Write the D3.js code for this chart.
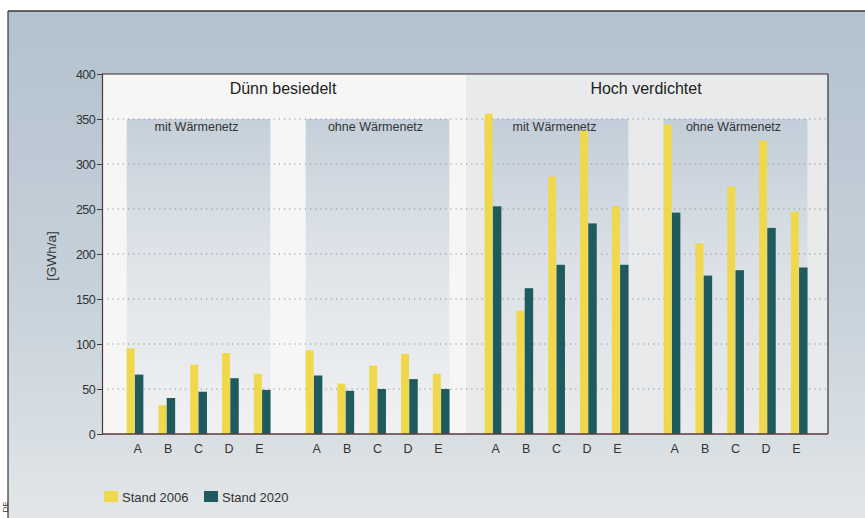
<!DOCTYPE html>
<html><head><meta charset="utf-8">
<script src="https://cdn.jsdelivr.net/npm/d3@7"></script>
<style>html,body{margin:0;padding:0;background:#fff;}svg{display:block;font-family:"Liberation Sans",Arial,sans-serif;}</style>
</head><body>
<script>
const categories = ["A","B","C","D","E"];
const regions = ["Dünn besiedelt","Hoch verdichtet"];
const subgroups = [
  {key:"d_mit", region:"Dünn besiedelt", label:"mit Wärmenetz"},
  {key:"d_ohne", region:"Dünn besiedelt", label:"ohne Wärmenetz"},
  {key:"h_mit", region:"Hoch verdichtet", label:"mit Wärmenetz"},
  {key:"h_ohne", region:"Hoch verdichtet", label:"ohne Wärmenetz"}
];
const series = ["Stand 2006","Stand 2020"];
const stand2006 = {
  d_mit:[95,32,77,90,67],
  d_ohne:[93,56,76,89,67],
  h_mit:[356,137,286,337,253],
  h_ohne:[344,212,275,326,247]
};
const stand2020 = {
  d_mit:[66,40,47,62,49],
  d_ohne:[65,48,50,61,50],
  h_mit:[253,162,188,234,188],
  h_ohne:[246,176,182,229,185]
};
const yTicks = [0,50,100,150,200,250,300,350,400];
const colors = {"Stand 2006":"#f0d84c","Stand 2020":"#1f5b5e"};

(function(){
const W=865,H=518;
const svg=d3.select("body").append("svg").attr("width",W).attr("height",H);
const defs=svg.append("defs");
const bgG=defs.append("linearGradient").attr("id","bg").attr("x1",0).attr("y1",0).attr("x2",0).attr("y2",1);
bgG.append("stop").attr("offset","0").attr("stop-color","#b3c2cf");
bgG.append("stop").attr("offset","0.55").attr("stop-color","#c6d1da");
bgG.append("stop").attr("offset","1").attr("stop-color","#e2e6e8");
const pG=defs.append("linearGradient").attr("id","panel").attr("x1",0).attr("y1",0).attr("x2",0).attr("y2",1);
pG.append("stop").attr("offset","0").attr("stop-color","#c5d0da");
pG.append("stop").attr("offset","0.45").attr("stop-color","#dfe4e9");
pG.append("stop").attr("offset","1").attr("stop-color","#f0f1f2");
const pG2=defs.append("linearGradient").attr("id","panel2").attr("x1",0).attr("y1",0).attr("x2",0).attr("y2",1);
pG2.append("stop").attr("offset","0").attr("stop-color","#c3ceda");
pG2.append("stop").attr("offset","0.5").attr("stop-color","#dde2e7");
pG2.append("stop").attr("offset","1").attr("stop-color","#e9ebed");

// outer frame
svg.append("rect").attr("x",8).attr("y",11).attr("width",W-8).attr("height",H-11).attr("fill","url(#bg)");
svg.append("line").attr("x1",8).attr("x2",W).attr("y1",11).attr("y2",11).attr("stroke","#3a3335").attr("stroke-width",1.5);
svg.append("line").attr("x1",8).attr("x2",8).attr("y1",11).attr("y2",H).attr("stroke","#3a3335").attr("stroke-width",1.2);
svg.append("text").attr("transform","translate(7.5,507) rotate(-90)").attr("text-anchor","middle").attr("font-size",8).attr("fill","#333").text("DE");

const pl=102,pr=828,pt=74,pb=434;
const y=d3.scaleLinear().domain([0,400]).range([pb,pt]);
const xSub=d3.scaleBand().domain(subgroups.map(d=>d.key)).range([109,825]);
const xCat=d3.scaleBand().domain(categories).range([0,xSub.bandwidth()]).paddingOuter(0.315);
const xLab=d3.scaleBand().domain(categories).range([0,xSub.bandwidth()]).paddingOuter(0.44);
const xSer=d3.scaleBand().domain(series).range([0,16.5]);
const barOff=(xCat.bandwidth()-16.5)/2;

const mid=466;
svg.append("rect").attr("x",pl).attr("y",pt).attr("width",mid-pl).attr("height",pb-pt).attr("fill","#f6f6f5");
svg.append("rect").attr("x",mid).attr("y",pt).attr("width",pr-mid).attr("height",pb-pt).attr("fill","#e8eaeb");

subgroups.forEach(sg=>{
  const x0=xSub(sg.key)+xCat("A")+barOff;
  const x1=xSub(sg.key)+xCat("E")+barOff+16.5;
  svg.append("rect").attr("x",x0).attr("y",y(350)).attr("width",x1-x0).attr("height",y(0)-y(350))
    .attr("fill",sg.region===regions[0]?"url(#panel)":"url(#panel2)");
});

svg.append("g").selectAll("line").data(yTicks.filter(t=>t>0&&t<400)).join("line")
  .attr("x1",pl).attr("x2",pr).attr("y1",d=>y(d)).attr("y2",d=>y(d))
  .attr("stroke","#8a8f94").attr("stroke-width",1).attr("stroke-dasharray","1.2,4");

regions.forEach((r,i)=>{
  const cx = i===0 ? 283 : 646;
  svg.append("text").attr("x",cx).attr("y",94).attr("text-anchor","middle").attr("font-size",16).attr("fill","#222").text(r);
});
subgroups.forEach(sg=>{
  svg.append("text").attr("x",xSub(sg.key)+xSub.bandwidth()/2-2).attr("y",131).attr("text-anchor","middle").attr("font-size",12.5).attr("fill","#333").text(sg.label);
});

subgroups.forEach(sg=>{
  const g=svg.append("g").attr("transform",`translate(${xSub(sg.key)},0)`);
  categories.forEach((c,i)=>{
    const vals=[stand2006[sg.key][i],stand2020[sg.key][i]];
    series.forEach((s,j)=>{
      g.append("rect").attr("x",xCat(c)+barOff+xSer(s)).attr("y",y(vals[j]))
        .attr("width",xSer.bandwidth()+(j===0?-0.3:0.2)).attr("height",y(0)-y(vals[j])).attr("fill",colors[s]);
    });
    g.append("text").attr("x",xLab(c)+xLab.bandwidth()/2).attr("y",453).attr("text-anchor","middle").attr("font-size",12.5).attr("fill","#333").text(c);
  });
});

svg.append("line").attr("x1",pl).attr("x2",pr).attr("y1",pt).attr("y2",pt).attr("stroke","#3a2e30").attr("stroke-width",1.2);
svg.append("line").attr("x1",pr).attr("x2",pr).attr("y1",pt).attr("y2",pb).attr("stroke","#3a2e30").attr("stroke-width",1.2);
svg.append("line").attr("x1",pl).attr("x2",pr).attr("y1",pb).attr("y2",pb).attr("stroke","#5a3a3c").attr("stroke-width",1.3);

const yAxis=d3.axisLeft(y).tickValues(yTicks).tickSize(5).tickPadding(2);
const ya=svg.append("g").attr("transform",`translate(${pl},0)`).call(yAxis);
ya.select(".domain").attr("stroke","#4a3a3c").attr("stroke-width",1.2);
ya.selectAll(".tick line").attr("stroke","#4a3a3c");
ya.selectAll("text").attr("font-size",12.5).attr("fill","#333").attr("font-family","Liberation Sans, Arial, sans-serif").style("letter-spacing","-0.6px");
svg.append("text").attr("transform","translate(56,256) rotate(-90)").attr("text-anchor","middle").attr("font-size",13.5).attr("fill","#333").text("[GWh/a]");

const lg=svg.append("g").attr("transform","translate(104,491)");
series.forEach((s,i)=>{
  const gx=i*100;
  lg.append("rect").attr("x",gx).attr("y",0).attr("width",14).attr("height",11).attr("fill",colors[s]);
  lg.append("text").attr("x",gx+18).attr("y",10.5).attr("font-size",13).attr("fill","#333").text(s);
});
})();
</script>
</body></html>
